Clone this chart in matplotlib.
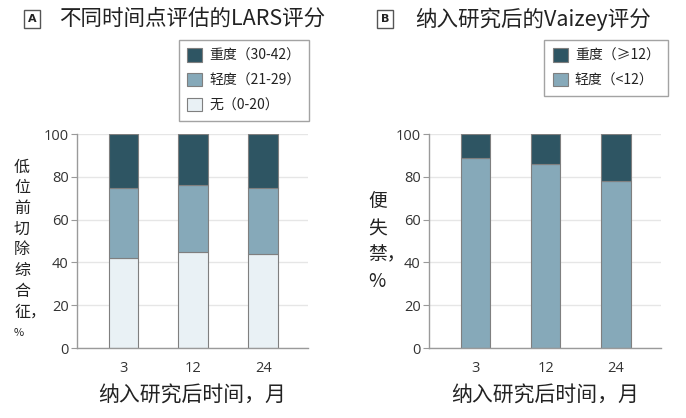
import matplotlib
matplotlib.use("Agg")
import matplotlib.pyplot as plt
from matplotlib.patches import Patch

plt.rcParams['font.family'] = ['Noto Sans CJK SC', 'DejaVu Sans']

# ---- data ----
months = ["3", "12", "24"]
lars_none = [42, 45, 44]
lars_minor = [33, 31, 31]
lars_major = [25, 24, 25]
vaizey_minor = [89, 86, 78]
vaizey_major = [11, 14, 22]

lars_labels = ["重度（30-42）", "轻度（21-29）", "无（0-20）"]
vaizey_labels = ["重度（≥12）", "轻度（<12）"]
title_a = "不同时间点评估的LARS评分"
title_b = "纳入研究后的Vaizey评分"
xlabel = "纳入研究后时间，月"
ylabel_a = ["低", "位", "前", "切", "除", "综", "合", "征，", "%"]
ylabel_b = ["便", "失", "禁，", "%"]
yticks = [0, 20, 40, 60, 80, 100]

c_dark = "#2e5563"
c_mid = "#86a9b9"
c_light = "#e9f1f5"
edge = "#7f7f7f"

W, H = 686, 418
fig = plt.figure(figsize=(W / 100, H / 100), dpi=100)

def fx(px):
    return px / W

def fy(py):
    return 1 - py / H

def style_axes(ax):
    ax.set_ylim(0, 100)
    ax.set_xlim(-0.66, 2.64)
    ax.set_yticks(yticks)
    ax.set_xticks(range(len(months)))
    ax.set_xticklabels(months)
    for s in ["top", "right"]:
        ax.spines[s].set_visible(False)
    for s in ["left", "bottom"]:
        ax.spines[s].set_color("#9a9a9a")
        ax.spines[s].set_linewidth(1.0)
    ax.tick_params(axis="y", length=4, color="#9a9a9a", labelsize=10.5,
                   labelcolor="#333333", pad=2)
    ax.tick_params(axis="x", length=0, labelsize=10.5, labelcolor="#333333", pad=9)
    for lab in ax.get_xticklabels() + ax.get_yticklabels():
        lab.set_family(["Open Sans", "DejaVu Sans"])
    ax.yaxis.grid(True, color="#e6e6e6", linewidth=1.0)
    ax.set_axisbelow(True)
    ax.set_xlabel(xlabel, fontsize=15, color="#222222", labelpad=6)

bw = 0.42
x = list(range(len(months)))

def make_legend(ax, handles, labels, right_px):
    leg = ax.legend(handles, labels, loc="upper right",
                    bbox_to_anchor=(fx(right_px), fy(40)), bbox_transform=fig.transFigure,
                    fontsize=10, frameon=True, fancybox=False, edgecolor="#8c8c8c",
                    handlelength=1.1, handleheight=1.1, labelspacing=0.75,
                    borderpad=0.6, handletextpad=0.5, borderaxespad=0)
    leg.get_frame().set_linewidth(1.0)
    for t in leg.get_texts():
        t.set_color("#222222")
    return leg

# Panel A
axA = fig.add_axes([fx(77), fy(348), fx(231), 214 / H])
axA.bar(x, lars_none, bw, color=c_light, edgecolor=edge, linewidth=0.8)
axA.bar(x, lars_minor, bw, bottom=lars_none, color=c_mid, edgecolor=edge, linewidth=0.8)
bottom2 = [a + b for a, b in zip(lars_none, lars_minor)]
axA.bar(x, lars_major, bw, bottom=bottom2, color=c_dark, edgecolor=edge, linewidth=0.8)
style_axes(axA)
handlesA = [Patch(facecolor=c, edgecolor=edge, linewidth=0.8) for c in (c_dark, c_mid, c_light)]
make_legend(axA, handlesA, lars_labels, 309)

# Panel B
axB = fig.add_axes([fx(429), fy(348), fx(232), 214 / H])
axB.bar(x, vaizey_minor, bw, color=c_mid, edgecolor=edge, linewidth=0.8)
axB.bar(x, vaizey_major, bw, bottom=vaizey_minor, color=c_dark, edgecolor=edge, linewidth=0.8)
style_axes(axB)
handlesB = [Patch(facecolor=c, edgecolor=edge, linewidth=0.8) for c in (c_dark, c_mid)]
make_legend(axB, handlesB, vaizey_labels, 668)

# Titles with boxed letters
def panel_title(box_cx, text_x, letter, title):
    fig.text(fx(box_cx), fy(19), letter, ha="center", va="center", fontsize=8,
             fontweight="bold", color="#222222", family=["DejaVu Sans"],
             bbox=dict(boxstyle="square,pad=0.35", facecolor="white",
                       edgecolor="#555555", linewidth=1.0))
    fig.text(fx(text_x), fy(19), title, ha="left", va="center", fontsize=15.5,
             color="#222222")

panel_title(32, 59, "A", title_a)
panel_title(385, 415, "B", title_b)

# Stacked vertical y labels
for i, ch in enumerate(ylabel_a):
    fig.text(fx(14), fy(167 + i * 20.7), ch, ha="left", va="center",
             fontsize=11.5 if ch != "%" else 8, color="#222222")
for i, ch in enumerate(ylabel_b):
    fig.text(fx(368), fy(202 + i * 26.5), ch, ha="left", va="center",
             fontsize=13.5, color="#222222")

fig.savefig("out.png", dpi=100)
